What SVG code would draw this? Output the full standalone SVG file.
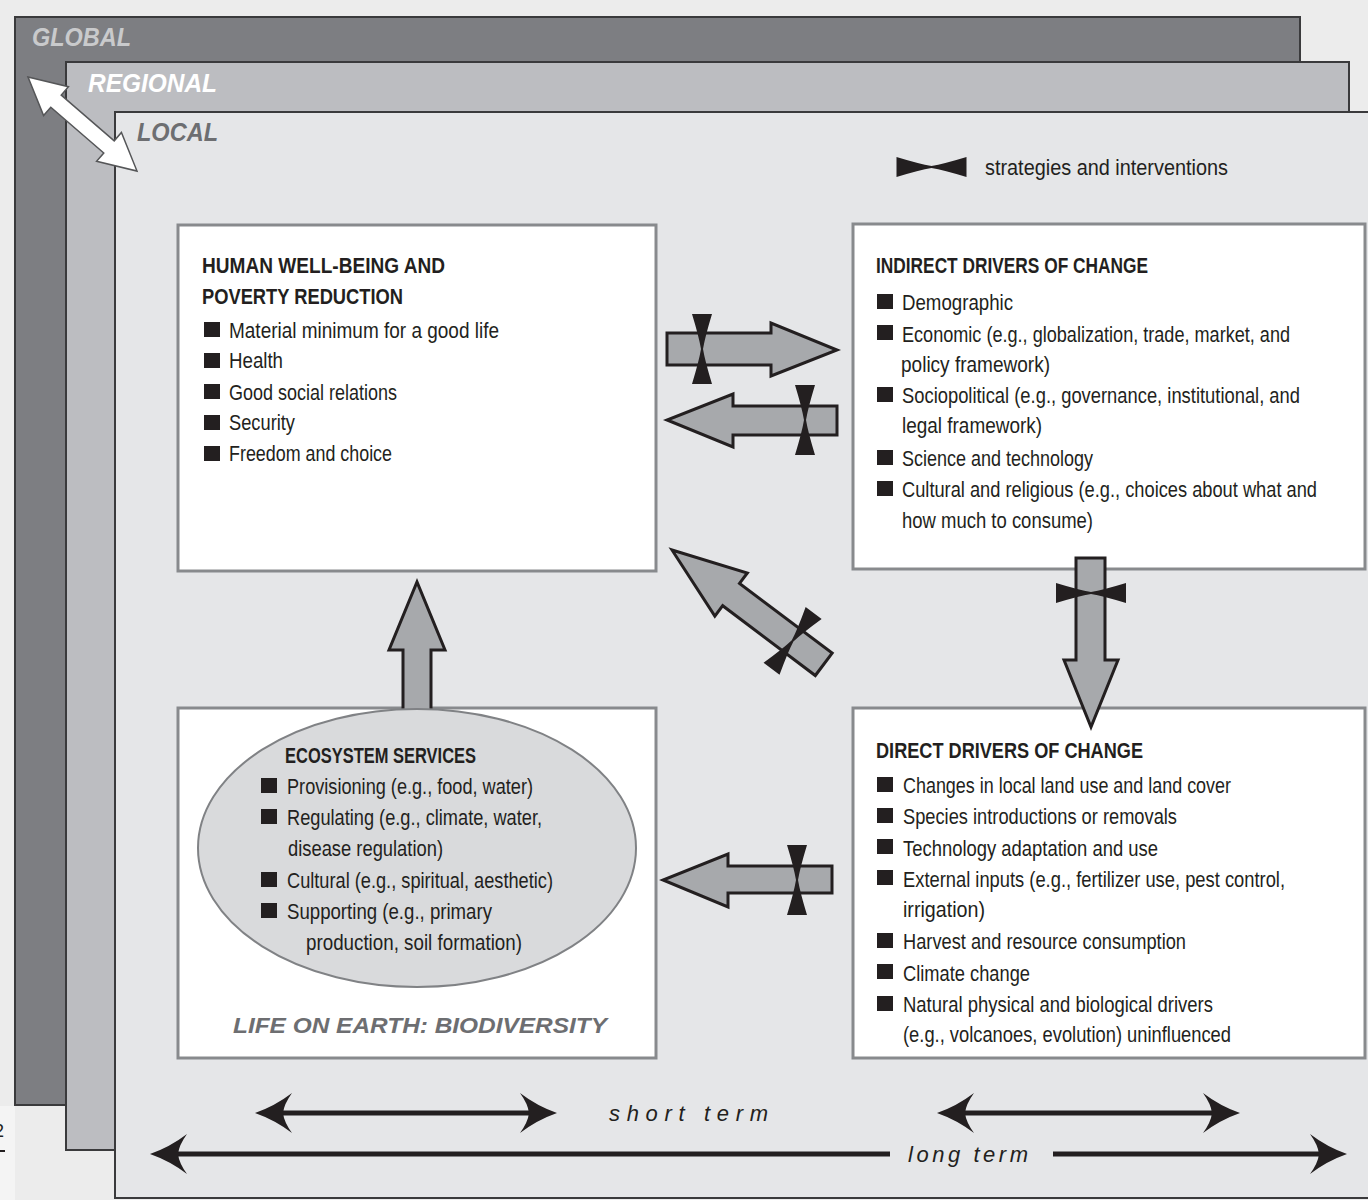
<svg xmlns="http://www.w3.org/2000/svg" xmlns:xlink="http://www.w3.org/1999/xlink" width="1368" height="1200" viewBox="0 0 1368 1200">
<style>
.t{font-family:"Liberation Sans Narrow","Liberation Sans",Arial,sans-serif;font-size:22px;fill:#231f20}
.h{font-family:"Liberation Sans Narrow","Liberation Sans",Arial,sans-serif;font-size:21.5px;font-weight:bold;fill:#231f20}
.lvl{font-family:"Liberation Sans",Arial,sans-serif;font-size:26px;font-weight:bold;font-style:italic}
.it{font-family:"Liberation Sans",Arial,sans-serif;font-size:22px;font-style:italic;fill:#231f20}
.box{fill:#ffffff;stroke:#888a8d;stroke-width:3}
.arr{fill:#a7a9ac;stroke:#231f20;stroke-width:3;stroke-linejoin:miter}
.bt{fill:#231f20}
.bl{fill:#231f20}
.ln{stroke:#231f20;stroke-width:5;fill:none}
.scale{stroke:#3a3a3c;stroke-width:2}
</style>
<defs>
<path id="bow" d="M-10,-35 L10,-35 Q3,-12 1,0 Q3,12 10,35 L-10,35 Q-3,12 -1,0 Q-3,-12 -10,-35 Z"/>
<path id="hd" d="M0,0 Q20,-7 37,-20 Q29,-9 28,0 Q29,9 37,20 Q20,7 0,0 Z"/>
</defs>

<rect x="0" y="0" width="1368" height="1200" fill="#ececec"/>
<rect x="0" y="1106" width="15" height="94" fill="#f4f4f4"/>

<g id="scales">
<rect class="scale" x="15" y="17" width="1285" height="1088" fill="#7d7e82"/>
<rect class="scale" x="66" y="62" width="1283" height="1088" fill="#bcbdc1"/>
<rect class="scale" x="115" y="112" width="1260" height="1086" fill="#e5e6e8"/>
<text class="lvl" x="32" y="46" fill="#c9cacc" textLength="99" lengthAdjust="spacingAndGlyphs">GLOBAL</text>
<text class="lvl" x="88" y="92" fill="#ffffff" textLength="129" lengthAdjust="spacingAndGlyphs">REGIONAL</text>
<text class="lvl" x="137" y="141" fill="#6d6e71" textLength="81" lengthAdjust="spacingAndGlyphs">LOCAL</text>
<path d="M0,0 L37,-19 L37,-8 L107,-8 L107,-19 L144,0 L107,19 L107,8 L37,8 L37,19 Z" transform="translate(28,77) rotate(40.8)" fill="#ffffff" stroke="#555658" stroke-width="1.5"/>
</g>

<g id="legend">
<use xlink:href="#bow" class="bt" transform="translate(931.5,167) rotate(90)"/>
<text class="t" x="985" y="175" textLength="243" lengthAdjust="spacingAndGlyphs">strategies and interventions</text>
</g>

<g id="node-wellbeing">
<rect class="box" x="178" y="225" width="478" height="346"/>
<text class="h" x="202" y="273" textLength="243" lengthAdjust="spacingAndGlyphs">HUMAN WELL-BEING AND</text>
<text class="h" x="202" y="304" textLength="201" lengthAdjust="spacingAndGlyphs">POVERTY REDUCTION</text>
<rect class="bl" x="204" y="322" width="16" height="15"/>
<text class="t" x="229" y="338" textLength="270" lengthAdjust="spacingAndGlyphs">Material minimum for a good life</text>
<rect class="bl" x="204" y="353" width="16" height="15"/>
<text class="t" x="229" y="368" textLength="54" lengthAdjust="spacingAndGlyphs">Health</text>
<rect class="bl" x="204" y="384" width="16" height="15"/>
<text class="t" x="229" y="400" textLength="168" lengthAdjust="spacingAndGlyphs">Good social relations</text>
<rect class="bl" x="204" y="415" width="16" height="15"/>
<text class="t" x="229" y="430" textLength="66" lengthAdjust="spacingAndGlyphs">Security</text>
<rect class="bl" x="204" y="446" width="16" height="15"/>
<text class="t" x="229" y="461" textLength="163" lengthAdjust="spacingAndGlyphs">Freedom and choice</text>
</g>

<g id="node-indirect">
<rect class="box" x="853" y="224" width="512" height="345"/>
<text class="h" x="876" y="273" textLength="272" lengthAdjust="spacingAndGlyphs">INDIRECT DRIVERS OF CHANGE</text>
<rect class="bl" x="877" y="294" width="16" height="15"/>
<text class="t" x="902" y="310" textLength="111" lengthAdjust="spacingAndGlyphs">Demographic</text>
<rect class="bl" x="877" y="325" width="16" height="15"/>
<text class="t" x="902" y="342" textLength="388" lengthAdjust="spacingAndGlyphs">Economic (e.g., globalization, trade, market, and</text>
<text class="t" x="901" y="372" textLength="149" lengthAdjust="spacingAndGlyphs">policy framework)</text>
<rect class="bl" x="877" y="387" width="16" height="15"/>
<text class="t" x="902" y="403" textLength="398" lengthAdjust="spacingAndGlyphs">Sociopolitical (e.g., governance, institutional, and</text>
<text class="t" x="902" y="433" textLength="140" lengthAdjust="spacingAndGlyphs">legal framework)</text>
<rect class="bl" x="877" y="450" width="16" height="15"/>
<text class="t" x="902" y="466" textLength="191" lengthAdjust="spacingAndGlyphs">Science and technology</text>
<rect class="bl" x="877" y="481" width="16" height="15"/>
<text class="t" x="902" y="497" textLength="415" lengthAdjust="spacingAndGlyphs">Cultural and religious (e.g., choices about what and</text>
<text class="t" x="902" y="528" textLength="191" lengthAdjust="spacingAndGlyphs">how much to consume)</text>
</g>

<g id="node-direct">
<rect class="box" x="853" y="708" width="512" height="350"/>
<text class="h" x="876" y="758" textLength="267" lengthAdjust="spacingAndGlyphs">DIRECT DRIVERS OF CHANGE</text>
<rect class="bl" x="877" y="777" width="16" height="15"/>
<text class="t" x="903" y="793" textLength="328" lengthAdjust="spacingAndGlyphs">Changes in local land use and land cover</text>
<rect class="bl" x="877" y="808" width="16" height="15"/>
<text class="t" x="903" y="824" textLength="274" lengthAdjust="spacingAndGlyphs">Species introductions or removals</text>
<rect class="bl" x="877" y="839" width="16" height="15"/>
<text class="t" x="903" y="856" textLength="255" lengthAdjust="spacingAndGlyphs">Technology adaptation and use</text>
<rect class="bl" x="877" y="870" width="16" height="15"/>
<text class="t" x="903" y="887" textLength="382" lengthAdjust="spacingAndGlyphs">External inputs (e.g., fertilizer use, pest control,</text>
<text class="t" x="903" y="917" textLength="82" lengthAdjust="spacingAndGlyphs">irrigation)</text>
<rect class="bl" x="877" y="933" width="16" height="15"/>
<text class="t" x="903" y="949" textLength="283" lengthAdjust="spacingAndGlyphs">Harvest and resource consumption</text>
<rect class="bl" x="877" y="964" width="16" height="15"/>
<text class="t" x="903" y="981" textLength="127" lengthAdjust="spacingAndGlyphs">Climate change</text>
<rect class="bl" x="877" y="996" width="16" height="15"/>
<text class="t" x="903" y="1012" textLength="310" lengthAdjust="spacingAndGlyphs">Natural physical and biological drivers</text>
<text class="t" x="903" y="1042" textLength="328" lengthAdjust="spacingAndGlyphs">(e.g., volcanoes, evolution) uninfluenced</text>
</g>

<g id="node-ecosystem">
<rect class="box" x="178" y="708" width="478" height="350"/>
<path class="arr" d="M403,712 L403,650 L389,650 L417,582 L445,650 L431,650 L431,712"/>
<ellipse cx="417" cy="848" rx="219" ry="139" fill="#d9dadc" stroke="#808285" stroke-width="2"/>
<text class="h" x="285" y="763" textLength="191" lengthAdjust="spacingAndGlyphs">ECOSYSTEM SERVICES</text>
<rect class="bl" x="261" y="778" width="16" height="15"/>
<text class="t" x="287" y="794" textLength="246" lengthAdjust="spacingAndGlyphs">Provisioning (e.g., food, water)</text>
<rect class="bl" x="261" y="809" width="16" height="15"/>
<text class="t" x="287" y="825" textLength="255" lengthAdjust="spacingAndGlyphs">Regulating (e.g., climate, water,</text>
<text class="t" x="288" y="856" textLength="155" lengthAdjust="spacingAndGlyphs">disease regulation)</text>
<rect class="bl" x="261" y="872" width="16" height="15"/>
<text class="t" x="287" y="888" textLength="266" lengthAdjust="spacingAndGlyphs">Cultural (e.g., spiritual, aesthetic)</text>
<rect class="bl" x="261" y="903" width="16" height="15"/>
<text class="t" x="287" y="919" textLength="205" lengthAdjust="spacingAndGlyphs">Supporting (e.g., primary</text>
<text class="t" x="306" y="950" textLength="216" lengthAdjust="spacingAndGlyphs">production, soil formation)</text>
<text class="lvl" x="233" y="1033" fill="#6d6e71" style="font-size:22px" textLength="374" lengthAdjust="spacingAndGlyphs">LIFE ON EARTH: BIODIVERSITY</text>
</g>

<g id="connectors">
<polygon class="arr" points="667,333 771,333 771,323 837,350 771,376 771,365 667,365"/>
<use xlink:href="#bow" class="bt" transform="translate(702,349)"/>
<polygon class="arr" points="837,406 733,406 733,394 667,420 733,447 733,435 837,435"/>
<use xlink:href="#bow" class="bt" transform="translate(805,420)"/>
<polygon class="arr" points="1076,558 1105,558 1105,660 1118,660 1091,727 1064,660 1076,660"/>
<use xlink:href="#bow" class="bt" transform="translate(1091,593) rotate(90)"/>
<polygon class="arr" points="832,866 728,866 728,854 663,880 728,907 728,893 832,893"/>
<use xlink:href="#bow" class="bt" transform="translate(797,880)"/>
<g transform="translate(672,550) rotate(37)">
<path class="arr" d="M0,0 L74,-27 L74,-14 L190,-14 L190,14 L74,14 L74,27 Z"/>
<use xlink:href="#bow" class="bt" transform="translate(151,0)"/>
</g>
</g>

<g id="timescale">
<line class="ln" x1="280" y1="1113" x2="530" y2="1113"/>
<use xlink:href="#hd" class="bt" transform="translate(255,1113)"/>
<use xlink:href="#hd" class="bt" transform="translate(557,1113) scale(-1,1)"/>
<line class="ln" x1="962" y1="1113" x2="1215" y2="1113"/>
<use xlink:href="#hd" class="bt" transform="translate(937,1113)"/>
<use xlink:href="#hd" class="bt" transform="translate(1240,1113) scale(-1,1)"/>
<text class="it" x="609" y="1121" textLength="159" lengthAdjust="spacing">short term</text>
<line class="ln" x1="175" y1="1154" x2="890" y2="1154"/>
<use xlink:href="#hd" class="bt" transform="translate(150,1154)"/>
<line class="ln" x1="1053" y1="1154" x2="1322" y2="1154"/>
<use xlink:href="#hd" class="bt" transform="translate(1347,1154) scale(-1,1)"/>
<text class="it" x="908" y="1162" textLength="120" lengthAdjust="spacing">long term</text>
</g>

<g id="margin">
<text x="-6" y="1137" style="font-family:'Liberation Sans',Arial,sans-serif;font-size:18px;fill:#231f20">2</text>
<line x1="0" y1="1151" x2="5" y2="1151" stroke="#231f20" stroke-width="2"/>
</g>
</svg>
